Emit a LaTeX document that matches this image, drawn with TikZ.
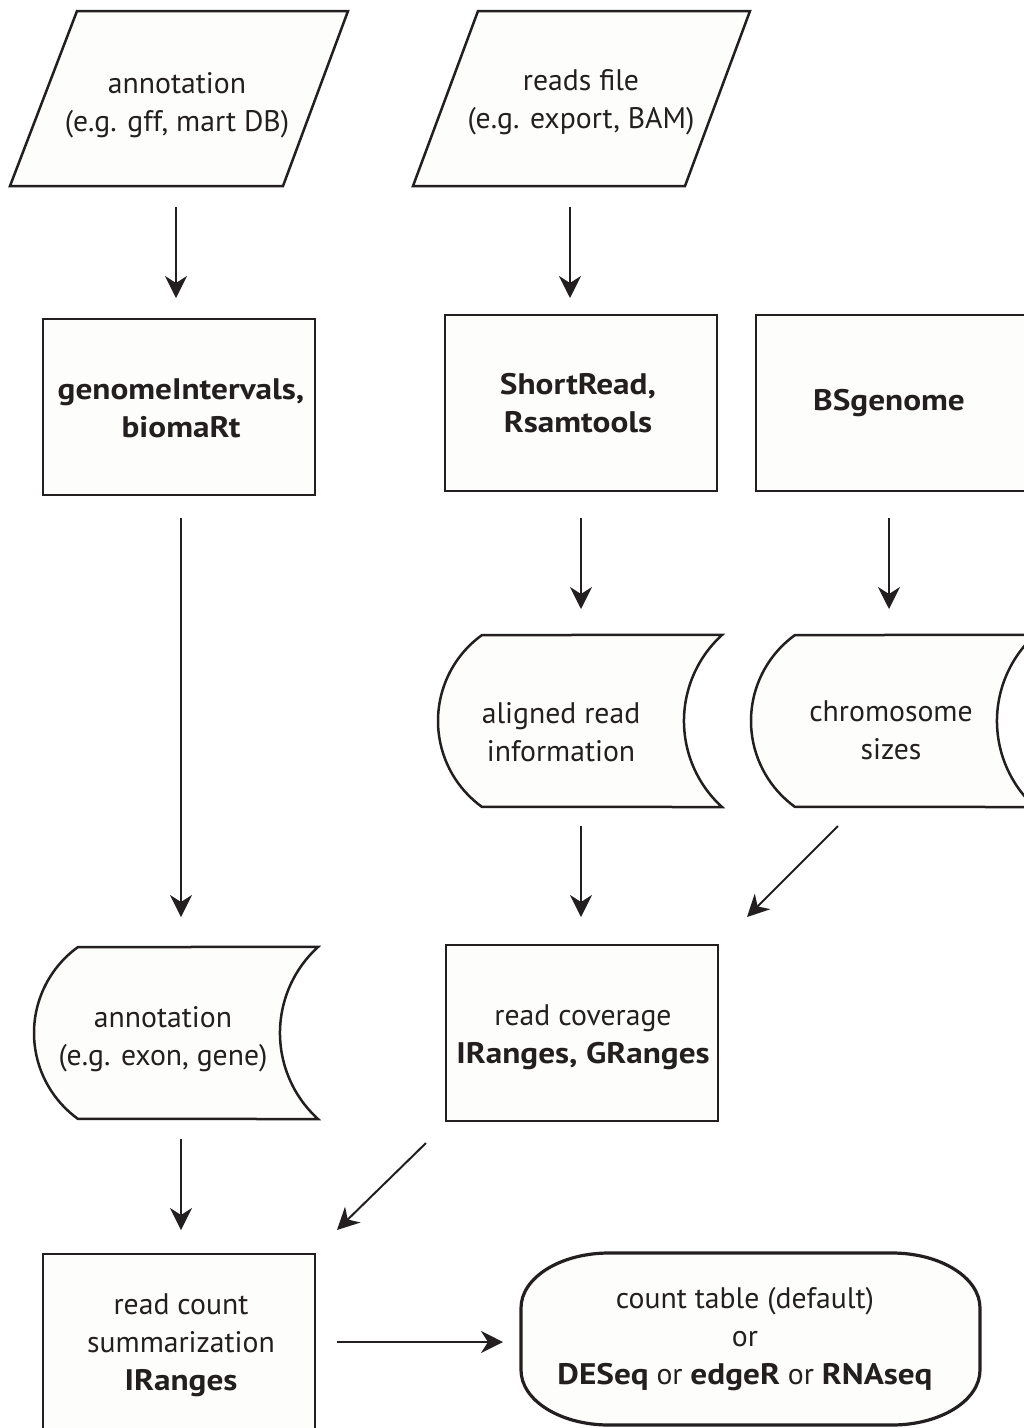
\documentclass[tikz,border=0pt]{standalone}
\usepackage{fontspec}
\setmainfont{PT Sans}[BoldFeatures={FakeStretch=1.12}]
\usetikzlibrary{arrows.meta}
\definecolor{ink}{HTML}{231F20}
\definecolor{paper}{HTML}{FDFDFB}
\begin{document}
\begin{tikzpicture}[x=1pt,y=1pt,
  shapeline/.style={draw=ink,line width=2.5pt,fill=paper,line join=miter},
  lbl/.style={text=ink,align=center,font=\fontsize{29.7}{38}\selectfont,inner sep=0pt},
  box/.style={shapeline,lbl,minimum width=272pt,minimum height=176pt},
  arr/.style={draw=ink,line width=2pt,-{Stealth[length=22pt,width=22pt,inset=7pt]}},
  storedpath/.pic={\path[shapeline] (0,0) arc[start angle=125.8,end angle=234.2,radius=106] -- (240,-172) arc[start angle=227.7,end angle=132.3,radius=116.3] -- cycle;}]
\useasboundingbox[fill=white] (0,0) rectangle (1024,-1428);
\clip (0,0) rectangle (1024,-1428);

% input parallelograms
\path[shapeline] (77,-11) -- (348,-11) -- (283,-186) -- (10,-186) -- cycle;
\node[lbl] (annot) at (177,-105) {annotation\\(e.g. gff, mart DB)};
\path[shapeline] (478,-11) -- (750,-11) -- (685,-186) -- (413,-186) -- cycle;
\node[lbl] (reads) at (581,-102) {reads file\\(e.g. export, BAM)};

% process boxes
\node[box] (genome) at (179,-407) {};
\node[lbl] (genomeT) at (181,-408) {\textbf{genomeIntervals,}\\\textbf{biomaRt}};
\node[box] (shortread) at (581,-403) {};
\node[lbl] (shortreadT) at (578,-403) {\textbf{ShortRead,}\\\textbf{Rsamtools}};
\node[box] (bsgenome) at (892,-403) {};
\node[lbl] (bsgenomeT) at (889,-403) {\textbf{BSgenome}};

% stored data shapes
\pic at (482,-635) {storedpath};
\node[lbl] (aligned) at (561,-732) {aligned read\\information};
\pic at (795,-635) {storedpath};
\node[lbl] (chrom) at (891,-730) {chromosome\\sizes};
\pic at (78,-947) {storedpath};
\node[lbl] (annexon) at (163,-1039) {annotation\\(e.g. exon, gene)};

\node[box] (coverage) at (582,-1033) {};
\node[lbl] (coverageT) at (583,-1037) {read coverage\\\textbf{IRanges, GRanges}};
\node[box] (count) at (179,-1342) {};
\node[lbl] (countT) at (181,-1345) {read count\\summarization\\\textbf{IRanges}};

% terminal
\path[shapeline,line width=3.2pt] (609,-1253) -- (892,-1253)
  arc[start angle=90,end angle=0,x radius=88,y radius=55] -- (980,-1370)
  arc[start angle=0,end angle=-90,x radius=88,y radius=55] -- (609,-1425)
  arc[start angle=270,end angle=180,x radius=88,y radius=55] -- (521,-1308)
  arc[start angle=180,end angle=90,x radius=88,y radius=55] -- cycle;
\node[lbl] (result) at (745,-1339) {count table (default)\\or\\\textbf{DESeq} or \textbf{edgeR} or \textbf{RNAseq}};

% connector end points
\coordinate (a1s) at (176,-207); \coordinate (a1e) at (176,-298);
\coordinate (a2s) at (570,-207); \coordinate (a2e) at (570,-298);
\coordinate (a3s) at (181,-518); \coordinate (a3e) at (181,-917);
\coordinate (a4s) at (581,-518); \coordinate (a4e) at (581,-609);
\coordinate (a5s) at (889,-518); \coordinate (a5e) at (889,-609);
\coordinate (a6s) at (581,-826); \coordinate (a6e) at (581,-917);
\coordinate (a7s) at (838,-826); \coordinate (a7e) at (747,-917);
\coordinate (a8s) at (181,-1139); \coordinate (a8e) at (181,-1230);
\coordinate (a9s) at (426,-1143); \coordinate (a9e) at (337,-1230);
\coordinate (a10s) at (337,-1342); \coordinate (a10e) at (503,-1342);

\draw[arr] (a1s) -- (a1e);
\draw[arr] (a2s) -- (a2e);
\draw[arr] (a3s) -- (a3e);
\draw[arr] (a4s) -- (a4e);
\draw[arr] (a5s) -- (a5e);
\draw[arr] (a6s) -- (a6e);
\draw[arr] (a7s) -- (a7e);
\draw[arr] (a8s) -- (a8e);
\draw[arr] (a9s) -- (a9e);
\draw[arr] (a10s) -- (a10e);
\end{tikzpicture}
\end{document}
